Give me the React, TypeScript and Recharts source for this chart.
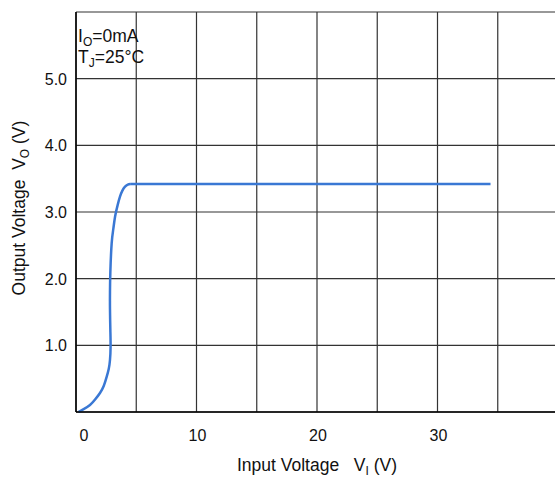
import React from 'react'
import { LineChart, Line, XAxis, YAxis, CartesianGrid } from 'recharts'

// rising part of the curve
const riseVin = [0.2, 0.6, 1.16, 1.6, 1.99, 2.3, 2.55, 2.72, 2.82, 2.87, 2.85, 2.82, 2.82, 2.85, 2.96, 3.1, 3.24, 3.45, 3.65, 3.85, 4.07, 4.3, 4.49]
const riseVout = [0, 0.04, 0.105, 0.19, 0.285, 0.39, 0.53, 0.65, 0.78, 0.98, 1.23, 1.55, 1.8, 2.1, 2.53, 2.75, 2.93, 3.1, 3.23, 3.32, 3.38, 3.41, 3.42]

// flat regulated part
const flatVin = [4.49, 34.4]
const flatVout = [3.42, 3.42]

const xTicks = [0, 5, 10, 15, 20, 25, 30, 35, 40]
const xLabels = ['0', '10', '20', '30']
const yTicks = [0, 1, 2, 3, 4, 5, 6]
const yLabels = ['1.0', '2.0', '3.0', '4.0', '5.0']

const FONT = '"Liberation Sans", Arial, sans-serif'
const LINE = '#3a78d4'

const riseData = riseVin.map((v, i) => ({ vin: v, vout: riseVout[i] }))
const flatData = flatVin.map((v, i) => ({ vin: v, vout: flatVout[i] }))

function XTick(props: any) {
  const { x, y, payload } = props
  const label = String(payload.value)
  if (!xLabels.includes(label)) return null
  const dx = payload.value === 0 ? 8 : 1
  return (
    <text x={x + dx} y={y + 27} textAnchor="middle" fontSize={16} fontFamily={FONT} fill="#111">
      {label}
    </text>
  )
}

function YTick(props: any) {
  const { x, y, payload } = props
  const label = Number(payload.value).toFixed(1)
  if (!yLabels.includes(label)) return null
  return (
    <text x={x - 7} y={y + 6} textAnchor="end" fontSize={16} fontFamily={FONT} fill="#111">
      {label}
    </text>
  )
}

export default function App() {
  return (
    <div style={{ position: 'absolute', left: 0, top: 0, width: 555, height: 478, overflow: 'hidden', background: '#fff' }}>
      <LineChart width={600} height={478} margin={{ top: 12, right: 42, bottom: 0, left: 0 }}>
        <CartesianGrid stroke="#333" strokeWidth={1.2} />
        <XAxis
          type="number"
          dataKey="vin"
          domain={[0, 40]}
          ticks={xTicks}
          interval={0}
          tickLine={false}
          tickSize={0}
          axisLine={{ stroke: '#000', strokeWidth: 1.5 }}
          tick={<XTick />}
          height={66}
        />
        <YAxis
          type="number"
          dataKey="vout"
          domain={[0, 6]}
          ticks={yTicks}
          interval={0}
          tickLine={false}
          tickSize={0}
          axisLine={{ stroke: '#000', strokeWidth: 1.5 }}
          tick={<YTick />}
          width={76}
        />
        <Line data={riseData} dataKey="vout" type="natural" stroke={LINE} strokeWidth={2.5} dot={false} isAnimationActive={false} />
        <Line data={flatData} dataKey="vout" type="linear" stroke={LINE} strokeWidth={2.5} dot={false} isAnimationActive={false} />
        <text x={78} y={42} fontSize={17.5} fontFamily={FONT} fill="#111">
          I<tspan fontSize={12} dy={4}>O</tspan><tspan dy={-4}>=0mA</tspan>
        </text>
        <text x={78} y={63} fontSize={17.5} fontFamily={FONT} fill="#111">
          T<tspan fontSize={12} dy={4}>J</tspan><tspan dy={-4}>=25°C</tspan>
        </text>
        <text x={317} y={471} textAnchor="middle" fontSize={17.5} fontFamily={FONT} fill="#111">
          Input Voltage{'\u00a0\u00a0\u00a0'}V<tspan fontSize={12} dy={4}>I</tspan><tspan dy={-4}> (V)</tspan>
        </text>
        <text x={25} y={208} transform="rotate(-90 25 208)" textAnchor="middle" fontSize={17.5} fontFamily={FONT} fill="#111">
          Output Voltage{'\u00a0\u00a0'}V<tspan fontSize={12} dy={4}>O</tspan><tspan dy={-4}> (V)</tspan>
        </text>
      </LineChart>
    </div>
  )
}
